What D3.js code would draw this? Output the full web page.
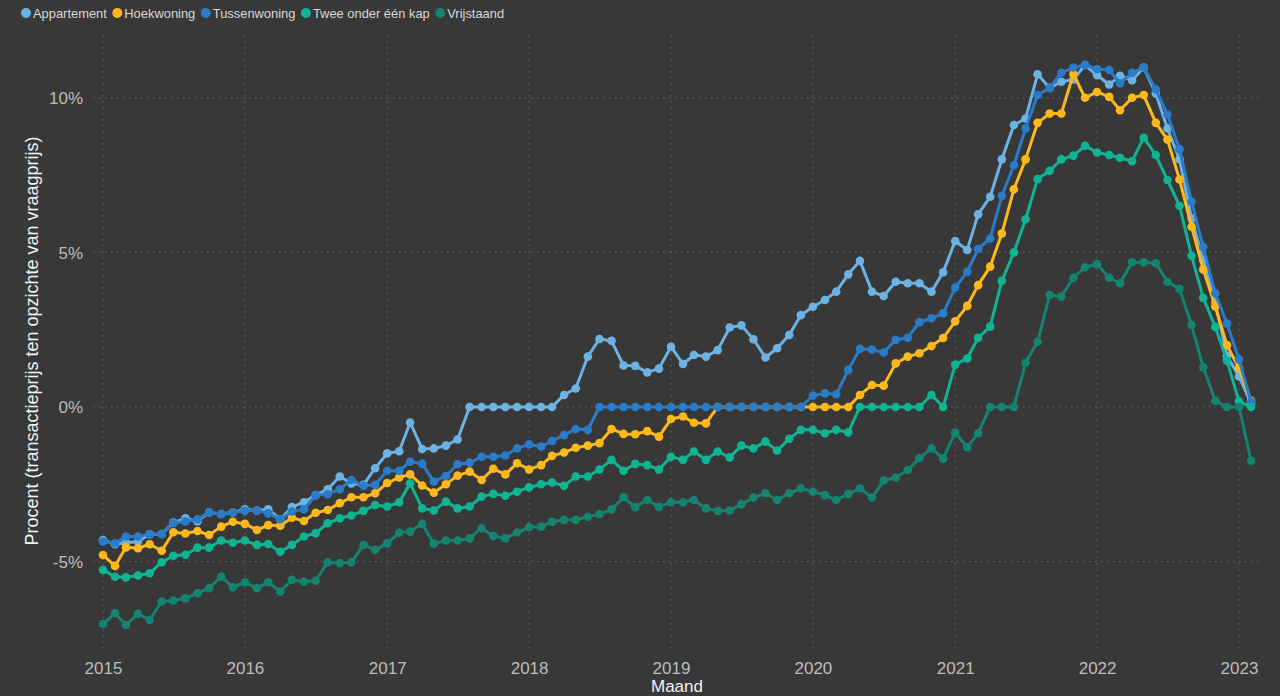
<!DOCTYPE html>
<html>
<head>
<meta charset="utf-8">
<script src="https://cdn.jsdelivr.net/npm/d3@7"></script>
<style>
  html, body { margin: 0; padding: 0; background: #383838; }
  svg { display: block; }
</style>
</head>
<body>
<svg id="chart" width="1280" height="696"></svg>
<script>
// ---- Data (monthly, Jan 2015 – Feb 2023), percent ----
const seriesNames = ["Appartement", "Hoekwoning", "Tussenwoning", "Twee onder één kap", "Vrijstaand"];
const seriesColors = ["#6cb2e3", "#fdb91c", "#2a7bc8", "#0fb593", "#14836f"];
const startYear = 2015, startMonth = 0;

const appartement = [
  -4.30,-4.44,-4.39,-4.35,-4.12,-4.11,-3.74,-3.60,-3.70,-3.41,-3.46,-3.41,
  -3.31,-3.35,-3.31,-3.63,-3.24,-3.08,-2.85,-2.66,-2.25,-2.47,-2.52,-1.98,
  -1.50,-1.43,-0.50,-1.36,-1.34,-1.25,-1.05,0,0,0,0,0,
  0,0,0,0.39,0.60,1.63,2.20,2.14,1.34,1.33,1.12,1.24,
  1.95,1.39,1.68,1.63,1.84,2.57,2.64,2.19,1.60,1.90,2.33,2.97,
  3.24,3.46,3.73,4.29,4.73,3.73,3.59,4.05,4.00,4.00,3.73,4.36,
  5.37,5.08,6.23,6.80,8.01,9.12,9.33,10.76,10.32,10.52,10.59,11.06,
  10.73,10.43,10.71,10.57,10.98,10.14,9.01,8.01,6.10,4.75,3.38,1.65,
  0.99,0.12
];
const hoekwoning = [
  -4.79,-5.14,-4.54,-4.57,-4.44,-4.65,-4.05,-4.09,-4.01,-4.14,-3.87,-3.71,
  -3.78,-3.98,-3.82,-3.84,-3.58,-3.69,-3.42,-3.33,-3.11,-2.92,-2.92,-2.79,
  -2.46,-2.28,-2.18,-2.54,-2.77,-2.50,-2.22,-2.09,-2.36,-2.00,-2.18,-1.82,
  -2.02,-1.88,-1.58,-1.47,-1.32,-1.25,-1.17,-0.71,-0.87,-0.88,-0.78,-0.96,
  -0.39,-0.31,-0.51,-0.53,0,0,0,0,0,0,0,0,
  0,0,0,0,0.39,0.71,0.69,1.41,1.63,1.74,1.97,2.23,
  2.77,3.27,3.94,4.54,5.61,7.04,8.01,9.19,9.49,9.49,10.77,10.00,
  10.19,10.03,9.60,10.00,10.09,9.19,8.65,7.36,5.83,4.45,3.25,2.00,
  1.25,0.20
];
const tussenwoning = [
  -4.35,-4.41,-4.19,-4.19,-4.12,-4.11,-3.76,-3.70,-3.63,-3.41,-3.46,-3.41,
  -3.36,-3.35,-3.44,-3.63,-3.38,-3.31,-2.85,-2.82,-2.66,-2.36,-2.55,-2.52,
  -2.06,-2.06,-1.77,-1.84,-2.41,-2.23,-1.85,-1.80,-1.61,-1.61,-1.57,-1.34,
  -1.21,-1.28,-1.10,-0.91,-0.71,-0.74,0,0,0,0,0,0,
  0,0,0,0,0,0,0,0,0,0,0,0,
  0.37,0.44,0.41,1.20,1.88,1.86,1.76,2.17,2.24,2.74,2.87,3.03,
  3.86,4.37,5.11,5.45,6.83,7.82,9.01,10.09,10.32,10.81,10.98,11.06,
  10.93,10.90,10.47,10.81,10.98,10.27,9.46,8.34,6.64,5.18,3.68,2.70,
  1.54,0.17
];
const tweeOnderEenKap = [
  -5.27,-5.49,-5.51,-5.45,-5.38,-5.02,-4.81,-4.78,-4.55,-4.55,-4.32,-4.39,
  -4.32,-4.46,-4.43,-4.68,-4.46,-4.19,-4.08,-3.76,-3.60,-3.51,-3.36,-3.17,
  -3.22,-3.08,-2.47,-3.28,-3.35,-3.06,-3.28,-3.22,-2.90,-2.81,-2.87,-2.74,
  -2.60,-2.50,-2.44,-2.55,-2.25,-2.25,-2.02,-1.71,-2.06,-1.84,-1.88,-2.02,
  -1.61,-1.71,-1.44,-1.71,-1.44,-1.63,-1.25,-1.34,-1.12,-1.41,-1.03,-0.74,
  -0.74,-0.85,-0.74,-0.82,0,0,0,0,0,0,0.39,0,
  1.37,1.57,2.24,2.60,4.08,5.00,6.07,7.37,7.64,8.01,8.13,8.45,
  8.23,8.15,8.06,7.95,8.71,8.15,7.34,6.51,4.89,3.53,2.59,1.50,
  0.18,0
];
const vrijstaand = [
  -7.02,-6.67,-7.05,-6.69,-6.89,-6.29,-6.26,-6.19,-6.02,-5.86,-5.49,-5.83,
  -5.67,-5.86,-5.67,-5.97,-5.59,-5.65,-5.62,-5.02,-5.05,-5.02,-4.46,-4.62,
  -4.41,-4.07,-4.03,-3.78,-4.42,-4.32,-4.32,-4.25,-3.92,-4.17,-4.25,-4.06,
  -3.89,-3.87,-3.71,-3.65,-3.65,-3.55,-3.47,-3.31,-2.92,-3.24,-3.01,-3.23,
  -3.08,-3.08,-3.01,-3.28,-3.36,-3.35,-3.15,-2.93,-2.79,-3.01,-2.79,-2.63,
  -2.74,-2.85,-3.01,-2.81,-2.63,-2.93,-2.38,-2.28,-2.04,-1.66,-1.34,-1.67,
  -0.83,-1.30,-0.85,0,0,0,1.43,2.11,3.62,3.57,4.18,4.52,
  4.62,4.18,4.00,4.68,4.68,4.65,4.05,3.82,2.65,1.29,0.20,0,
  0,-1.74
];
const seriesValues = [appartement, hoekwoning, tussenwoning, tweeOnderEenKap, vrijstaand];

const xTickYears = [2015, 2016, 2017, 2018, 2019, 2020, 2021, 2022, 2023];
const yTickValues = [-5, 0, 5, 10];
const yTitle = "Procent (transactieprijs ten opzichte van vraagprijs)";
const xTitle = "Maand";

// ---- Layout ----
const svg = d3.select("#chart");
const W = 1280, H = 696;
const plotTop = 35, plotBottom = 650;

const x = d3.scaleTime()
  .domain([new Date(2015, 0, 1), new Date(2023, 0, 1)])
  .range([103, 1239]);
const y = d3.scaleLinear()
  .domain([-7.86, 11.87])
  .range([650, 40]);

const font = "'Liberation Sans', Arial, sans-serif";

svg.append("rect").attr("width", W).attr("height", H).attr("fill", "#383838");

// gridlines
const grid = svg.append("g");
grid.selectAll("line.v").data(xTickYears).join("line")
  .attr("x1", d => x(new Date(d, 0, 1))).attr("x2", d => x(new Date(d, 0, 1)))
  .attr("y1", plotTop).attr("y2", plotBottom)
  .attr("stroke", "#5f5f5f").attr("stroke-width", 1.2)
  .attr("stroke-dasharray", "1.5,4.5");
grid.selectAll("line.h").data(yTickValues).join("line")
  .attr("x1", 93).attr("x2", 1262)
  .attr("y1", d => y(d)).attr("y2", d => y(d))
  .attr("stroke", "#5f5f5f").attr("stroke-width", 1.2)
  .attr("stroke-dasharray", "1.5,4.5");

// axes
const yAxis = d3.axisLeft(y).tickValues(yTickValues).tickFormat(d => d + "%").tickSize(0).tickPadding(0);
const gy = svg.append("g").attr("transform", "translate(83,0)").call(yAxis);
gy.select(".domain").remove();
gy.selectAll("text").attr("font-family", font).attr("font-size", 17).attr("fill", "#bdbdbd").attr("dy", "0.35em");

const xAxis = d3.axisBottom(x).tickValues(xTickYears.map(d => new Date(d, 0, 1))).tickFormat(d3.timeFormat("%Y")).tickSize(0).tickPadding(0);
const gx = svg.append("g").attr("transform", "translate(0,662)").call(xAxis);
gx.select(".domain").remove();
gx.selectAll("text").attr("font-family", font).attr("font-size", 17).attr("fill", "#bdbdbd").attr("dy", "0.71em");

// titles
svg.append("text")
  .attr("transform", "translate(37.5,341) rotate(-90)")
  .attr("text-anchor", "middle")
  .attr("font-family", font).attr("font-size", 18).attr("fill", "#f2f2f2")
  .text(yTitle);
svg.append("text")
  .attr("x", 677).attr("y", 692)
  .attr("text-anchor", "middle")
  .attr("font-family", font).attr("font-size", 17).attr("fill", "#f2f2f2")
  .text(xTitle);

// series
const monthDate = i => d3.timeMonth.offset(new Date(startYear, startMonth, 1), i);
const line = d3.line().x((d, i) => x(monthDate(i))).y(d => y(d));

seriesValues.forEach((vals, s) => {
  const g = svg.append("g");
  g.append("path").datum(vals)
    .attr("d", line)
    .attr("fill", "none")
    .attr("stroke", seriesColors[s])
    .attr("stroke-width", 3)
    .attr("stroke-linejoin", "round");
  g.selectAll("circle").data(vals).join("circle")
    .attr("cx", (d, i) => x(monthDate(i)))
    .attr("cy", d => y(d))
    .attr("r", 4.3)
    .attr("fill", seriesColors[s]);
});

// legend
const leg = svg.append("g");
let lx = 26;
seriesNames.forEach((name, s) => {
  leg.append("circle").attr("cx", lx).attr("cy", 13).attr("r", 5).attr("fill", seriesColors[s]);
  const t = leg.append("text").attr("x", lx + 7).attr("y", 17.5)
    .attr("font-family", font).attr("font-size", 12.9).attr("fill", "#d9d9d9")
    .text(name);
  const w = t.node().getComputedTextLength();
  lx = lx + 7 + w + 10.5;
});
</script>
</body>
</html>
